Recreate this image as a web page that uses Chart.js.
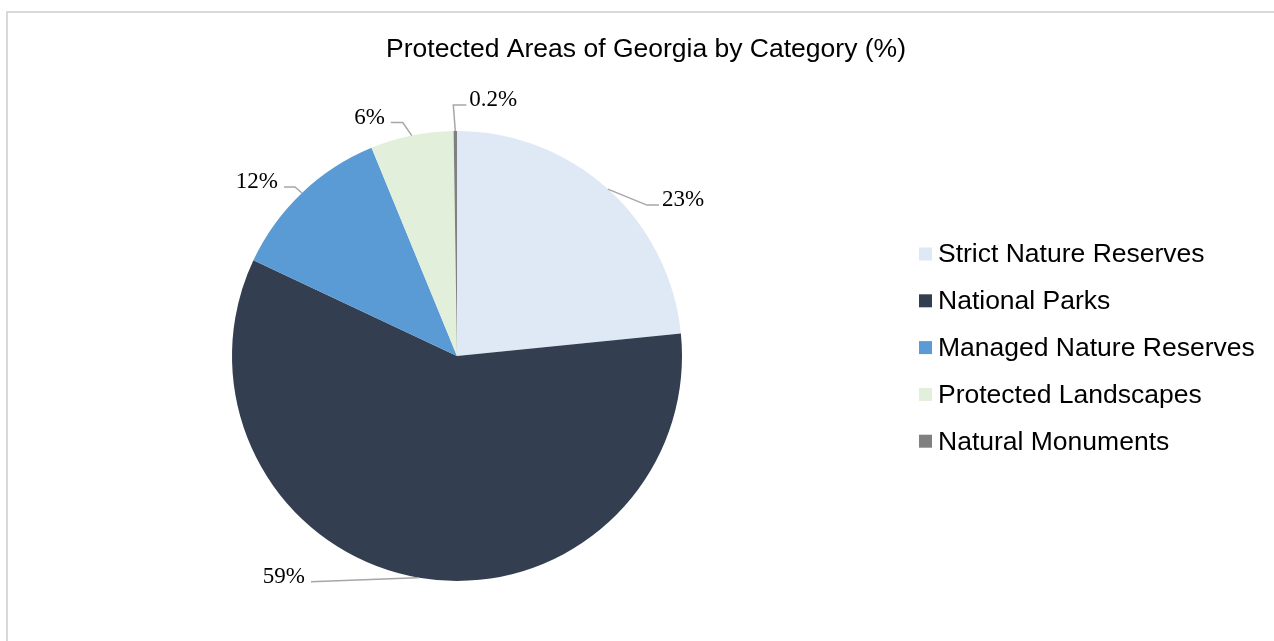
<!DOCTYPE html>
<html>
<head>
<meta charset="utf-8">
<script src="https://cdn.jsdelivr.net/npm/chart.js@4"></script>
<style>
  html, body { margin: 0; padding: 0; background: #fff; overflow: hidden; }
  #wrap { width: 1274px; height: 641px; }
</style>
</head>
<body>
<div id="wrap"><canvas id="pieChart" width="1274" height="641"></canvas></div>
<script>
const categories = ["Strict Nature Reserves", "National Parks", "Managed Nature Reserves", "Protected Landscapes", "Natural Monuments"];
const shares = [23.4, 58.6, 11.8, 5.96, 0.24];
const colors = ["#dee9f5", "#333f50", "#5b9bd5", "#e2efda", "#808080"];
const chartTitle = "Protected Areas of Georgia by Category (%)";

// leader line bends, relative to the point where each slice's mid angle meets the rim
const leaders = [
    { bend: [39, 16], end: [51, 16], side: "left" },
    { bend: [-2, 0], end: [-108, 4], side: "right" },
    { bend: [-7, -6], end: [-18, -6], side: "right" },
    { bend: [-9, -13], end: [-21, -13], side: "right" },
    { bend: [-2, -26], end: [11, -26], side: "left" }
];

function fmt(v) {
    return v >= 1 ? Math.round(v) + "%" : v.toFixed(1) + "%";
}

const decor = {
    id: "decor",
    beforeDraw(chart) {
        const c = chart.ctx;
        c.save();
        c.fillStyle = "#d9d9d9";
        c.fillRect(6, 11, 1268, 2);
        c.fillRect(6, 11, 2, 630);
        c.restore();
    },
    afterDraw(chart) {
        const c = chart.ctx;
        c.save();
        // title
        c.fillStyle = "#000";
        c.font = "26.5px 'Liberation Sans', Arial, sans-serif";
        c.textAlign = "center";
        c.textBaseline = "middle";
        c.fillText(chartTitle, 646, 50);

        // legend
        c.textAlign = "left";
        chart.data.labels.forEach((lab, i) => {
            const y = 254 + i * 46.8;
            c.fillStyle = colors[i];
            c.fillRect(919, y - 6.5, 13, 13);
            c.fillStyle = "#000";
            c.fillText(lab, 938, y + 1);
        });

        // data labels with leader lines
        const arcs = chart.getDatasetMeta(0).data;
        c.font = "23px 'Liberation Serif', 'Times New Roman', serif";
        c.textBaseline = "alphabetic";
        arcs.forEach((arc, i) => {
            const mid = (arc.startAngle + arc.endAngle) / 2;
            const ex = arc.x + Math.cos(mid) * arc.outerRadius;
            const ey = arc.y + Math.sin(mid) * arc.outerRadius;
            const L = leaders[i];
            c.strokeStyle = "#a6a6a6";
            c.lineWidth = 1.5;
            c.beginPath();
            c.moveTo(ex, ey);
            c.lineTo(ex + L.bend[0], ey + L.bend[1]);
            c.lineTo(ex + L.end[0], ey + L.end[1]);
            c.stroke();
            c.fillStyle = "#000";
            const tx = ex + L.end[0];
            const ty = ey + L.end[1] + 1;
            if (L.side === "left") {
                c.textAlign = "left";
                c.fillText(fmt(shares[i]), tx + 3, ty);
            } else {
                c.textAlign = "right";
                c.fillText(fmt(shares[i]), tx - 6, ty);
            }
        });
        c.restore();
    }
};

new Chart(document.getElementById("pieChart"), {
    type: "pie",
    data: {
        labels: categories,
        datasets: [{
            data: shares,
            backgroundColor: colors,
            borderWidth: 0,
            hoverOffset: 0
        }]
    },
    options: {
        responsive: false,
        animation: false,
        layout: { padding: { left: 232, right: 592, top: 131, bottom: 60 } },
        plugins: {
            legend: { display: false },
            title: { display: false },
            tooltip: { enabled: false }
        }
    },
    plugins: [decor]
});
</script>
</body>
</html>
